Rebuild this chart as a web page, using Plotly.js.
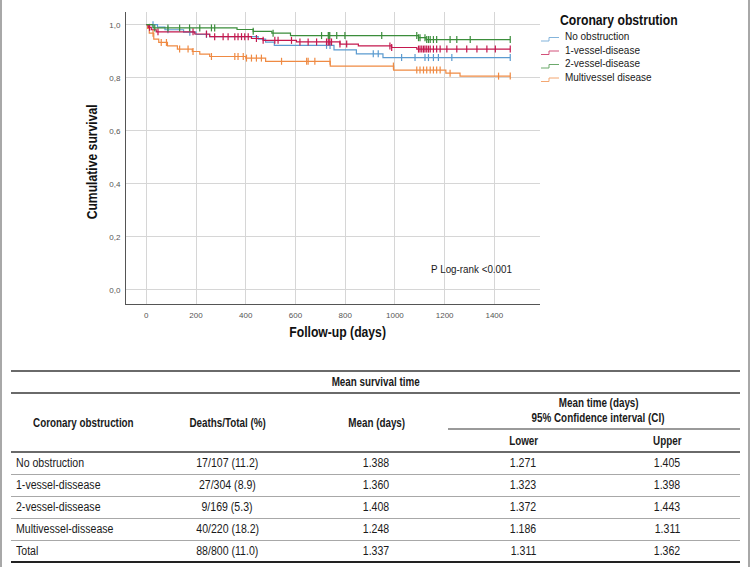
<!DOCTYPE html>
<html>
<head>
<meta charset="utf-8">
<script src="https://cdn.plot.ly/plotly-3.0.1.min.js"></script>
<style>
  html, body { margin:0; padding:0; background:#fff; }
  #wrap { position:relative; width:750px; height:567px; overflow:hidden; background:#fff; }
  #chart { position:absolute; left:0; top:0; width:750px; height:360px; }
  .t { position:absolute; white-space:nowrap; color:#1a1a1a; font-size:12px; line-height:14px;
       font-family:"Liberation Sans",Arial,sans-serif; transform:scaleX(0.88); }
  .t.b { font-weight:bold; transform:scaleX(0.82); }
  .t.c { transform-origin:center center; }
  .t.l { transform-origin:left center; }
  .hl { position:absolute; }
  .border { position:absolute; top:0; width:2px; height:567px; background:#a8a8a8; }
  #chart .annotation-text { transform-box:fill-box; transform-origin:center center; transform:scaleX(0.87); }
  #chart .annotation-text[text-anchor="start"] { transform-origin:left center; }
</style>
</head>
<body>
<div id="wrap">
  <div id="chart"></div>
  <div id="table"></div>
  <div class="border" style="left:0px"></div>
  <div class="border" style="left:748px"></div>
</div>
<script>
// ---------------- DATA ----------------
const groupNames = ["No obstruction", "1-vessel-disease", "2-vessel-disease", "Multivessel disease"];
const groupColors = ["#5b9bd0", "#c4184e", "#3b8d3b", "#ef8a43"];

// Kaplan-Meier step points (day, cumulative survival)
const noObsDays  = [0, 45, 75, 150, 200, 255, 450, 480, 515, 755, 845, 952, 1464];
const noObsSurv  = [1.0, 0.991, 0.981, 0.972, 0.963, 0.955, 0.946, 0.934, 0.922, 0.905, 0.890, 0.876, 0.876];
const oneVDays   = [0, 8, 20, 40, 195, 255, 423, 470, 604, 779, 853, 987, 1088, 1464];
const oneVSurv   = [1.0, 0.990, 0.981, 0.973, 0.965, 0.955, 0.948, 0.941, 0.935, 0.927, 0.920, 0.914, 0.908, 0.908];
const twoVDays   = [0, 27, 365, 430, 505, 580, 1095, 1125, 1464];
const twoVSurv   = [1.0, 0.988, 0.982, 0.975, 0.968, 0.959, 0.951, 0.944, 0.944];
const multiDays  = [0, 5, 12, 30, 50, 85, 125, 185, 215, 255, 400, 480, 740, 995, 1205, 1262, 1464];
const multiSurv  = [1.0, 0.986, 0.968, 0.946, 0.933, 0.920, 0.908, 0.899, 0.889, 0.880, 0.874, 0.862, 0.844, 0.829, 0.817, 0.806, 0.806];

// Censoring times (days)
const noObsCens = [27, 87, 175, 242, 725, 739, 913, 933, 1027, 1081, 1121, 1135, 1155, 1175, 1229, 1464];
const oneVCens  = [13, 47, 188, 242, 275, 309, 329, 356, 369, 383, 396, 410, 443, 470, 517, 530, 584, 618, 651, 685, 725, 732, 738, 745, 779, 806, 980, 987, 1095, 1101, 1108, 1115, 1121, 1128, 1135, 1142, 1155, 1168, 1182, 1209, 1249, 1289, 1330, 1370, 1404, 1464];
const twoVCens  = [34, 87, 134, 174, 215, 262, 275, 430, 510, 705, 732, 735, 738, 766, 799, 947, 1088, 1095, 1101, 1121, 1128, 1135, 1142, 1155, 1168, 1222, 1249, 1303, 1464];
const multiCens = [27, 60, 81, 134, 168, 188, 262, 356, 369, 390, 403, 423, 443, 463, 544, 645, 651, 678, 739, 994, 1088, 1101, 1115, 1128, 1142, 1155, 1168, 1182, 1222, 1417, 1464];

const xTicks = [0, 200, 400, 600, 800, 1000, 1200, 1400];
const yTicks = [0, 0.2, 0.4, 0.6, 0.8, 1.0];

// Table
const tableTitle = "Mean survival time";
const colHeaders = ["Coronary obstruction", "Deaths/Total (%)", "Mean (days)"];
const ciHeader = ["Mean time (days)", "95% Confidence interval (CI)"];
const ciSubHeaders = ["Lower", "Upper"];
const rowLabels = ["No obstruction", "1-vessel-dissease", "2-vessel-dissease", "Multivessel-dissease", "Total"];
const deathsTotal = ["17/107 (11.2)", "27/304 (8.9)", "9/169 (5.3)", "40/220 (18.2)", "88/800 (11.0)"];
const meanDays = ["1.388", "1.360", "1.408", "1.248", "1.337"];
const ciLower = ["1.271", "1.323", "1.372", "1.186", "1.311"];
const ciUpper = ["1.405", "1.398", "1.443", "1.311", "1.362"];

// ---------------- CHART ----------------
const REG = '"Liberation Sans",Arial,sans-serif';

function survAt(days, surv, t) {
  let s = surv[0];
  for (let i = 0; i < days.length; i++) { if (days[i] <= t) s = surv[i]; }
  return s;
}

const series = [
  [noObsDays, noObsSurv, noObsCens],
  [oneVDays, oneVSurv, oneVCens],
  [twoVDays, twoVSurv, twoVCens],
  [multiDays, multiSurv, multiCens]
];
const drawOrder = [3, 0, 1, 2];
const traces = [];
drawOrder.forEach(g => {
  const [d, s, c] = series[g];
  traces.push({
    type: 'scatter', mode: 'lines', x: d, y: s, line: {shape: 'hv', color: groupColors[g], width: 1.2},
    showlegend: false, hoverinfo: 'skip'
  });
  traces.push({
    type: 'scatter', mode: 'markers', x: c, y: c.map(t => survAt(d, s, t)),
    marker: {symbol: 'line-ns-open', size: 5, color: groupColors[g], line: {color: groupColors[g], width: 1.2}},
    showlegend: false, hoverinfo: 'skip'
  });
});

// plot area in px: x 126..540, y 12..304
const PL = 126, PR = 540, PT = 12, PB = 304;
const px2x = p => (p - PL) / (PR - PL);
const px2y = p => (PB - p) / (PB - PT);

const annotations = [
  {text: 'Cumulative survival', xref: 'paper', yref: 'paper', x: px2x(92), y: px2y(162), textangle: -90,
   showarrow: false, xanchor: 'center', yanchor: 'middle', font: {family: REG, size: 14, color: '#111', weight: 'bold'}},
  {text: 'Follow-up (days)', xref: 'paper', yref: 'paper', x: px2x(337.5), y: px2y(332),
   showarrow: false, xanchor: 'center', yanchor: 'middle', font: {family: REG, size: 14, color: '#111', weight: 'bold'}},
  {text: 'P Log-rank <0.001', xref: 'paper', yref: 'paper', x: px2x(471), y: px2y(269),
   showarrow: false, xanchor: 'center', yanchor: 'middle', font: {family: REG, size: 11.3, color: '#1a1a1a'}},
  {text: 'Coronary obstrution', xref: 'paper', yref: 'paper', x: px2x(558), y: px2y(20), align: 'left',
   showarrow: false, xanchor: 'left', yanchor: 'middle', font: {family: REG, size: 14, color: '#111', weight: 'bold'}}
];
const shapes = [];
const legendY = [36, 49.5, 63, 76.5];
groupNames.forEach((n, i) => {
  annotations.push({text: n, xref: 'paper', yref: 'paper', x: px2x(563), y: px2y(legendY[i]), align: 'left',
    showarrow: false, xanchor: 'left', yanchor: 'middle', font: {family: REG, size: 11.5, color: '#1a1a1a'}});
  const c = legendY[i];
  shapes.push({type: 'path', xref: 'paper', yref: 'paper',
    path: `M${px2x(541)},${px2y(c + 5)} L${px2x(549)},${px2y(c + 5)} L${px2x(549)},${px2y(c + 1.5)} L${px2x(559)},${px2y(c + 1.5)}`,
    line: {color: groupColors[i], width: 1}, opacity: 0.75});
});

const axisCommon = {
  showgrid: true, gridcolor: '#d6d6d6', gridwidth: 1, zeroline: false,
  showline: true, linecolor: '#555', linewidth: 1, ticks: '', fixedrange: true,
  tickfont: {family: REG, size: 8, color: '#555'}
};

const layout = {
  width: 750, height: 360,
  margin: {l: PL, r: 750 - PR, t: PT, b: 360 - PB},
  paper_bgcolor: 'rgba(0,0,0,0)', plot_bgcolor: '#fff',
  separators: ',.',
  showlegend: false,
  xaxis: Object.assign({}, axisCommon, {range: [-81.7, 1583.7], tickvals: xTicks, tickformat: 'd', ticklabelstandoff: 3}),
  yaxis: Object.assign({}, axisCommon, {range: [-0.054, 1.048], tickvals: yTicks, tickformat: '.1f', ticklabelstandoff: 3}),
  annotations: annotations,
  shapes: shapes
};

Plotly.newPlot('chart', traces, layout, {displayModeBar: false, staticPlot: true});

// ---------------- TABLE ----------------
const tbl = document.getElementById('table');
function addText(txt, x, y, align, bold) {
  const d = document.createElement('div');
  d.className = 't ' + (align === 'center' ? 'c' : 'l') + (bold ? ' b' : '');
  d.textContent = txt;
  tbl.appendChild(d);
  const w = d.offsetWidth;
  let left = x;
  if (align === 'center') left = x - w / 2;
  d.style.left = left + 'px';
  d.style.top = (y - 7) + 'px';
}
function addLine(x1, x2, y, h, color) {
  const d = document.createElement('div');
  d.className = 'hl';
  d.style.left = x1 + 'px'; d.style.width = (x2 - x1) + 'px';
  d.style.top = (y - h / 2) + 'px'; d.style.height = h + 'px';
  d.style.background = color;
  tbl.appendChild(d);
}
const TL = 11, TR = 740;
addLine(TL, TR, 371, 2, '#6a6a6a');
addText(tableTitle, 375, 382, 'center', true);
addLine(TL, TR, 393, 2, '#6a6a6a');
const colX = [16, 227, 376, 523, 667];
addText(colHeaders[0], 83, 423, 'center', true);
addText(colHeaders[1], colX[1], 423, 'center', true);
addText(colHeaders[2], colX[2], 423, 'center', true);
addText(ciHeader[0], 598, 403, 'center', true);
addText(ciHeader[1], 598, 418, 'center', true);
addLine(448, TR, 429, 1.5, '#9a9a9a');
addText(ciSubHeaders[0], colX[3], 441, 'center', true);
addText(ciSubHeaders[1], colX[4], 441, 'center', true);
addLine(TL, TR, 452, 2, '#6a6a6a');
const rowY0 = 463, rowH = 22;
rowLabels.forEach((r, i) => {
  const y = rowY0 + i * rowH;
  addText(r, colX[0], y, 'left', false);
  addText(deathsTotal[i], colX[1], y, 'center', false);
  addText(meanDays[i], colX[2], y, 'center', false);
  addText(ciLower[i], colX[3], y, 'center', false);
  addText(ciUpper[i], colX[4], y, 'center', false);
  if (i < rowLabels.length - 1) addLine(TL, TR, y + 11, 1, '#a8a8a8');
});
addLine(TL, TR, 562, 2, '#222');
</script>
</body>
</html>
